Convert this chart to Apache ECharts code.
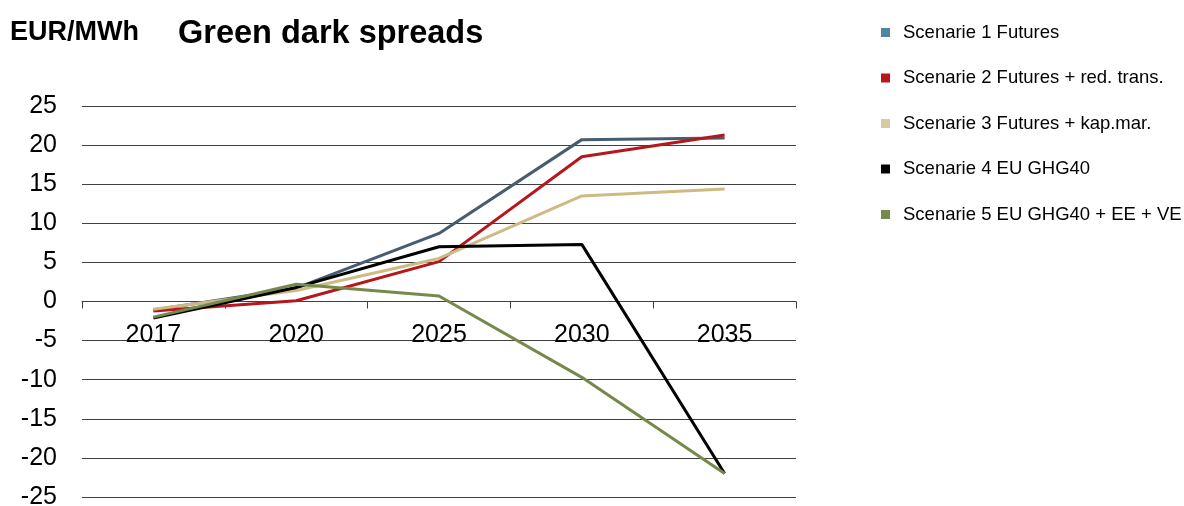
<!DOCTYPE html>
<html>
<head>
<meta charset="utf-8">
<script src="https://cdn.jsdelivr.net/npm/echarts@6/dist/echarts.min.js"></script>
<style>
  html, body { margin: 0; padding: 0; background: #ffffff; }
  #chart { width: 1184px; height: 506px; }
</style>
</head>
<body>
<div id="chart"></div>
<script>
// Green dark spreads per scenario (EUR/MWh)
const years = ['2017', '2020', '2025', '2030', '2035'];
const seriesNames = [
  'Scenarie 1 Futures',
  'Scenarie 2 Futures + red. trans.',
  'Scenarie 3 Futures + kap.mar.',
  'Scenarie 4 EU GHG40',
  'Scenarie 5 EU GHG40 + EE + VE'
];
const scenario1 = [-1.1, 1.7, 8.7, 20.7, 20.9];
const scenario2 = [-1.2, 0.1, 5.1, 18.5, 21.3];
const scenario3 = [-1.0, 1.4, 5.5, 13.5, 14.4];
const scenario4 = [-2.1, 1.8, 7.0, 7.3, -22.0];
const scenario5 = [-2.0, 2.2, 0.7, -9.7, -22.0];

const lineColors = ['#465d6f', '#b5171d', '#cdbb86', '#000000', '#76894a'];
const legendColors = ['#4f86a0', '#b5171d', '#d6cba0', '#000000', '#76894a'];
const values = [scenario1, scenario2, scenario3, scenario4, scenario5];

const yMin = -25, yMax = 25, yStep = 5;
const font = 'Liberation Sans, Arial, sans-serif';

const W = 1184, H = 506;
const grid = { left: 82, right: 388, top: 106, bottom: 9 };
// The category axis sits on the zero line; shift it up from the grid's bottom edge.
const plotH = H - grid.top - grid.bottom;
const zeroOffset = -plotH * (0 - yMin) / (yMax - yMin);

const chart = echarts.init(document.getElementById('chart'));

chart.setOption({
  animation: false,
  backgroundColor: '#ffffff',
  title: [
    {
      text: 'Green dark spreads',
      left: 178, top: 18, padding: 0,
      textStyle: { fontFamily: font, fontSize: 32.5, fontWeight: 'bold', color: '#000' }
    },
    {
      text: 'EUR/MWh',
      left: 10, top: 19, padding: 0,
      textStyle: { fontFamily: font, fontSize: 27, fontWeight: 'bold', color: '#000' }
    }
  ],
  legend: {
    orient: 'vertical',
    left: 881, top: 23, padding: 0,
    icon: 'rect',
    itemWidth: 9, itemHeight: 9,
    itemGap: 26.5,
    textStyle: { fontFamily: font, fontSize: 18.5, lineHeight: 18, color: '#000', padding: [0, 0, 0, 8] },
    data: seriesNames.map((n, i) => ({ name: n, itemStyle: { color: legendColors[i] } }))
  },
  grid: Object.assign({ containLabel: false, outerBoundsMode: 'none' }, grid),
  xAxis: {
    type: 'category',
    data: years,
    boundaryGap: true,
    position: 'bottom',
    offset: zeroOffset,
    axisLine: { onZero: false, lineStyle: { color: '#404040', width: 1 } },
    axisTick: { show: true, length: 7, lineStyle: { color: '#404040' } },
    axisLabel: { fontFamily: font, fontSize: 25, color: '#000', margin: 21 },
    splitLine: { show: false }
  },
  yAxis: {
    type: 'value',
    min: yMin, max: yMax, interval: yStep,
    axisLine: { show: false },
    axisTick: { show: false },
    axisLabel: { fontFamily: font, fontSize: 25, color: '#000', margin: 25, padding: [4, 0, 0, 0] },
    splitLine: { show: true, lineStyle: { color: '#404040', width: 1 } }
  },
  series: values.map((v, i) => ({
    name: seriesNames[i],
    type: 'line',
    data: v,
    symbol: 'none',
    lineStyle: { color: lineColors[i], width: 3 },
    itemStyle: { color: lineColors[i] }
  }))
});
</script>
</body>
</html>
